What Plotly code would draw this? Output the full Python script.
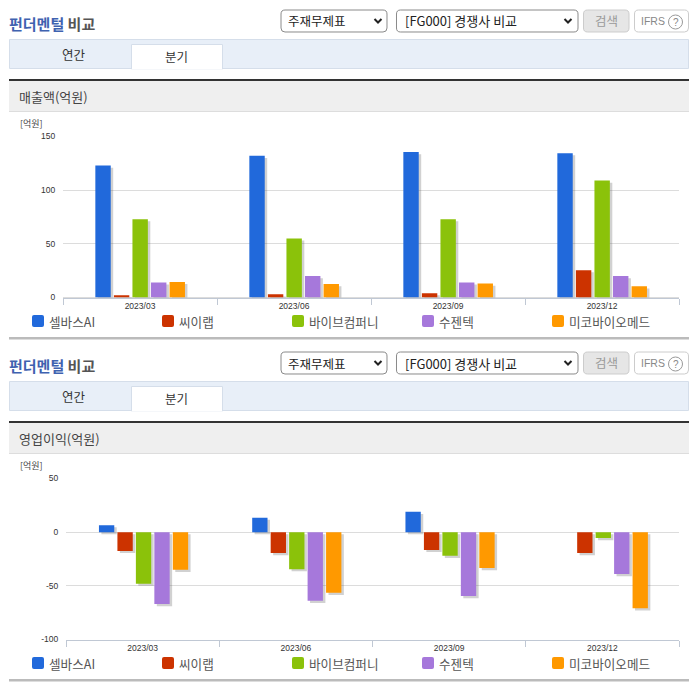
import plotly.graph_objects as go

W, H = 696, 684
KR = "Noto Sans CJK KR"
LATIN = "Liberation Sans"

quarters = ["2023/03", "2023/06", "2023/09", "2023/12"]
companies = ["셀바스AI", "씨이랩", "바이브컴퍼니", "수젠텍", "미코바이오메드"]
colors = ["#2169DB", "#CC3300", "#8BC20A", "#A678DB", "#FF9900"]

sales_selvas = [123, 132, 135.5, 134.5]
sales_ceilab = [2.2, 3, 4, 25.5]
sales_vaiv = [73, 55, 73, 109]
sales_sugentech = [14, 20, 14, 20]
sales_miko = [14.5, 12.5, 13, 10.5]

profit_selvas = [6.5, 13.5, 19, None]
profit_ceilab = [-17.5, -19.5, -16.5, -19.5]
profit_vaiv = [-48, -34.5, -22, -5.5]
profit_sugentech = [-67, -64, -59.5, -39]
profit_miko = [-35, -56.5, -33.5, -71]

sales = [sales_selvas, sales_ceilab, sales_vaiv, sales_sugentech, sales_miko]
profit = [profit_selvas, profit_ceilab, profit_vaiv, profit_sugentech, profit_miko]

sales_ticks = [0, 50, 100, 150]
profit_ticks = [-100, -50, 0, 50]

legend_x = [32, 162, 292, 422, 552]
panel_offsets = [0, 342]
panel_titles = ["매출액(억원)", "영업이익(억원)"]


def px_x(x):
    return x / W


def px_y(y):
    return 1 - y / H


def rect(x0, y0, x1, y1, fill="rgba(0,0,0,0)", line=None, lw=1):
    return dict(type="rect", xref="paper", yref="paper", x0=px_x(x0), x1=px_x(x1),
                y0=px_y(y0), y1=px_y(y1), fillcolor=fill,
                line=dict(color=line or "rgba(0,0,0,0)", width=lw if line else 0))


def round_rect(x0, y0, x1, y1, r, fill="rgba(0,0,0,0)", line=None, lw=1):
    # rounded corners, select boxes and legend swatches
    pts = lambda a, b: f"{px_x(a):.5f},{px_y(b):.5f}"
    path = (f"M {pts(x0 + r, y0)} L {pts(x1 - r, y0)} Q {pts(x1, y0)} {pts(x1, y0 + r)} "
            f"L {pts(x1, y1 - r)} Q {pts(x1, y1)} {pts(x1 - r, y1)} "
            f"L {pts(x0 + r, y1)} Q {pts(x0, y1)} {pts(x0, y1 - r)} "
            f"L {pts(x0, y0 + r)} Q {pts(x0, y0)} {pts(x0 + r, y0)} Z")
    return dict(type="path", xref="paper", yref="paper", path=path, fillcolor=fill,
                line=dict(color=line or "rgba(0,0,0,0)", width=lw if line else 0))


def chevron(cx, cy):
    pts = lambda a, b: f"{px_x(a):.5f},{px_y(b):.5f}"
    path = f"M {pts(cx - 3.5, cy - 2)} L {pts(cx, cy + 1.5)} L {pts(cx + 3.5, cy - 2)}"
    return dict(type="path", xref="paper", yref="paper", path=path,
                line=dict(color="#222222", width=2))


def label(x, y, text, size=12, color="#444444", anchor="left", family=KR):
    return dict(xref="paper", yref="paper", x=px_x(x), y=px_y(y), text=text, showarrow=False,
                xanchor=anchor, yanchor="middle", font=dict(family=family, size=size, color=color),
                borderpad=0, borderwidth=0)


shapes = []
annotations = []

for off, title in zip(panel_offsets, panel_titles):
    annotations.append(label(9, 23.5 + off, "<b><span style='color:#3F62B0'>펀더멘털</span> 비교</b>", 15, "#555555"))

    shapes.append(round_rect(281, 10 + off, 387, 32 + off, 4, "#FFFFFF", "#8A8A8A"))
    shapes.append(chevron(378, 21 + off))
    annotations.append(label(288, 21 + off, "주재무제표", 12.5, "#222222"))
    shapes.append(round_rect(396.5, 10 + off, 578, 32 + off, 4, "#FFFFFF", "#8A8A8A"))
    shapes.append(chevron(568, 21 + off))
    annotations.append(label(405, 21 + off, "[FG000] 경쟁사 비교", 13, "#222222"))
    shapes.append(round_rect(583.5, 10 + off, 629, 32 + off, 4, "#E6E6E6", "#CCCCCC"))
    annotations.append(label(606, 20.5 + off, "검색", 12.5, "#999999", "center"))
    shapes.append(round_rect(634.5, 10 + off, 688.5, 32 + off, 4, "#FFFFFF", "#CCCCCC"))
    annotations.append(label(641, 21 + off, "IFRS", 10.5, "#888888", family=LATIN))
    shapes.append(dict(type="circle", xref="paper", yref="paper", x0=px_x(668.5), x1=px_x(682.5),
                       y0=px_y(15 + off), y1=px_y(29 + off), line=dict(color="#999999", width=1)))
    annotations.append(label(675.5, 22 + off, "?", 10, "#888888", "center", LATIN))

    shapes.append(rect(9.5, 39.5 + off, 688.5, 68.5 + off, "#E8EFF8", "#D5DEEA"))
    shapes.append(rect(131.5, 44.5 + off, 222.5, 69 + off, "#FFFFFF", "#D5DEEA"))
    shapes.append(rect(132, 66 + off, 222, 69.5 + off, "#FFFFFF"))
    annotations.append(label(74, 55 + off, "연간", 12.5, "#333333", "center"))
    annotations.append(label(176, 56 + off, "분기", 12.5, "#333333", "center"))

    shapes.append(rect(9, 81 + off, 689, 111 + off, "#EFEFEF"))
    shapes.append(rect(9, 111 + off, 689, 112 + off, "#DDDDDD"))
    shapes.append(rect(9, 79 + off, 689, 81 + off, "#333333"))
    annotations.append(label(19, 96 + off, title, 13, "#444444"))
    annotations.append(label(20, 123 + off, "[억원]", 9, "#444444"))

    for lx, name, col in zip(legend_x, companies, colors):
        shapes.append(round_rect(lx, 315 + off, lx + 12, 327 + off, 2, col))
        annotations.append(label(lx + 17, 321 + off, name, 12.6, "#555555"))

    shapes.append(rect(9, 337 + off, 689, 339.5 + off, "#BBBBBB"))

fig = go.Figure()

BAR_W = 0.1
BAR_STEP = 0.1205
SHADOW_DX = 0.016
SHADOW_DY = 2

for data, xa, ya, start in [(sales, "x", "y", -0.29), (profit, "x2", "y2", -0.285)]:
    # shadows go in first so the colored bars sit on top
    for i, vals in enumerate(data):
        fig.add_trace(go.Bar(x=quarters, y=vals, xaxis=xa, yaxis=ya, width=BAR_W,
                             offset=start + i * BAR_STEP + SHADOW_DX, base=-SHADOW_DY,
                             marker=dict(color="rgba(90,90,90,0.28)", line=dict(width=0)),
                             showlegend=False, hoverinfo="skip"))
    for i, vals in enumerate(data):
        fig.add_trace(go.Bar(x=quarters, y=vals, xaxis=xa, yaxis=ya, name=companies[i], width=BAR_W,
                             offset=start + i * BAR_STEP,
                             marker=dict(color=colors[i], line=dict(width=0)), showlegend=False))

x_style = dict(type="category", tickson="boundaries", ticks="outside", ticklen=6, tickwidth=1,
               tickcolor="#C0C8D4", showline=True, linecolor="#C0C8D4", linewidth=1,
               showgrid=False, automargin=False, tickfont=dict(family=LATIN, size=8.5, color="#333333"))
y_style = dict(ticks="outside", ticklen=5, tickcolor="rgba(0,0,0,0)",
               showgrid=True, gridcolor="#DCDCDC", gridwidth=1, showline=False,
               zeroline=True, zerolinecolor="#DCDCDC", zerolinewidth=1, automargin=False,
               tickmode="array", tickfont=dict(family=LATIN, size=8.5, color="#333333"))

fig.update_layout(
    width=W, height=H, autosize=False,
    margin=dict(l=0, r=0, t=0, b=0, autoexpand=False),
    paper_bgcolor="#FFFFFF", plot_bgcolor="#FFFFFF",
    barmode="overlay", showlegend=False,
    shapes=shapes, annotations=annotations,
    xaxis=dict(domain=[px_x(63), px_x(679)], anchor="y", **x_style),
    yaxis=dict(domain=[px_y(297.5), px_y(136.5)], range=[0, 150], anchor="x",
               tickvals=sales_ticks, ticktext=[str(t) for t in sales_ticks], **y_style),
    xaxis2=dict(domain=[px_x(66), px_x(679)], anchor="y2", **x_style),
    yaxis2=dict(domain=[px_y(639.5), px_y(478.5)], range=[-100, 50], anchor="x2",
                tickvals=profit_ticks, ticktext=[str(t) for t in profit_ticks], **y_style),
)

fig.write_html("out.html", config=dict(displayModeBar=False),
               post_script="document.body.style.margin='0';document.documentElement.style.overflow='hidden';")
